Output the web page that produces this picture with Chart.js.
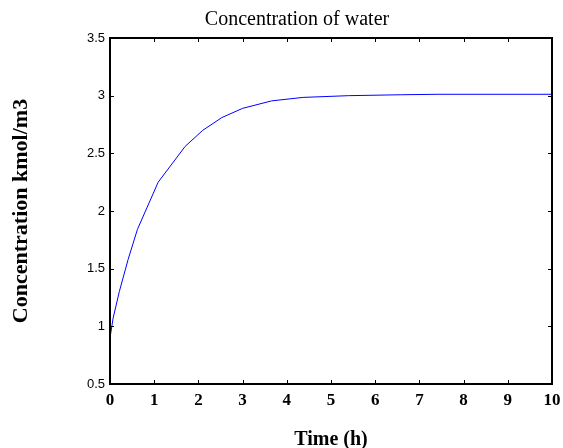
<!DOCTYPE html>
<html>
<head>
<meta charset="utf-8">
<script src="https://cdn.jsdelivr.net/npm/chart.js@4/dist/chart.umd.min.js"></script>
<style>
  html, body { margin: 0; padding: 0; background: #fff; }
  #wrap { width: 563px; height: 448px; }
</style>
</head>
<body>
<div id="wrap"><canvas id="waterChart" width="563" height="448"></canvas></div>
<script>
// time (h) and concentration of water (kmol/m3)
const timeH = [0, 0.07, 0.21, 0.41, 0.62, 1.09, 1.7, 2.1, 2.53, 3.0, 3.66, 4.37, 5.4, 6.6, 7.4, 10];
const conc = [0.9, 1.07, 1.3, 1.58, 1.84, 2.25, 2.56, 2.7, 2.81, 2.89, 2.955, 2.985, 3.0, 3.008, 3.012, 3.012];
const xTicks = [0, 1, 2, 3, 4, 5, 6, 7, 8, 9, 10];
const yTicks = [0.5, 1, 1.5, 2, 2.5, 3, 3.5];
const yTickLabels = ["0.5", "1", "1.5", "2", "2.5", "3", "3.5"];
const chartTitle = "Concentration of water";

// draws the title, the box round the plot and the small inward ticks on all four sides
const boxPlugin = {
  id: "box",
  afterDraw(chart) {
    const ctx = chart.ctx;
    const a = chart.chartArea;
    const xs = chart.scales.x;
    const ys = chart.scales.y;
    const len = 4;
    ctx.save();
    ctx.strokeStyle = "#000";
    ctx.lineWidth = 1;
    ctx.beginPath();
    xTicks.forEach((t) => {
      const px = Math.round(xs.getPixelForValue(t)) + 0.5;
      ctx.moveTo(px, a.bottom);
      ctx.lineTo(px, a.bottom - len);
      ctx.moveTo(px, a.top);
      ctx.lineTo(px, a.top + len);
    });
    yTicks.forEach((t) => {
      const py = Math.round(ys.getPixelForValue(t)) + 0.5;
      ctx.moveTo(a.left, py);
      ctx.lineTo(a.left + len, py);
      ctx.moveTo(a.right, py);
      ctx.lineTo(a.right - len, py);
    });
    ctx.stroke();
    ctx.lineWidth = 2;
    ctx.strokeRect(a.left, a.top, a.right - a.left, a.bottom - a.top);
    // title sits a bit left of the plot centre, like the original
    ctx.fillStyle = "#000";
    ctx.font = "20px 'Liberation Serif', 'Times New Roman', serif";
    ctx.textAlign = "center";
    ctx.textBaseline = "middle";
    ctx.fillText(chartTitle, 297, 20);
    ctx.restore();
  },
};

const ctx = document.getElementById("waterChart").getContext("2d");
new Chart(ctx, {
  type: "line",
  data: {
    datasets: [
      {
        data: timeH.map((t, i) => ({ x: t, y: conc[i] })),
        borderColor: "#0000ff",
        borderWidth: 1,
        pointRadius: 0,
        tension: 0,
        fill: false,
      },
    ],
  },
  options: {
    responsive: false,
    animation: false,
    layout: { padding: { left: 0, right: 11, top: 38, bottom: 0 } },
    plugins: {
      legend: { display: false },
      tooltip: { enabled: false },
      title: { display: false },
    },
    scales: {
      x: {
        type: "linear",
        min: 0,
        max: 10,
        afterBuildTicks: (s) => { s.ticks = xTicks.map((v) => ({ value: v })); },
        afterFit: (s) => {
          s.height = 64;
          s.paddingLeft = 0;
          s.paddingRight = 0;
        },
        grid: { display: false, drawTicks: false },
        border: { display: false },
        ticks: {
          color: "#000",
          padding: 6,
          maxRotation: 0,
          font: { family: "'Liberation Serif', 'Times New Roman', serif", size: 17, weight: "bold" },
        },
        title: {
          display: true,
          text: "Time (h)",
          color: "#000",
          font: { family: "'Liberation Serif', 'Times New Roman', serif", size: 20, weight: "bold", lineHeight: 0.8 },
          padding: { top: 0, bottom: 0 },
        },
      },
      y: {
        type: "linear",
        min: 0.5,
        max: 3.5,
        afterBuildTicks: (s) => { s.ticks = yTicks.map((v) => ({ value: v })); },
        afterFit: (s) => {
          s.width = 110;
          s.paddingTop = 0;
          s.paddingBottom = 0;
        },
        grid: { display: false, drawTicks: false },
        border: { display: false },
        ticks: {
          color: "#000",
          padding: 5,
          font: { family: "'Liberation Sans', Arial, sans-serif", size: 13 },
          callback: (value) => yTickLabels[yTicks.indexOf(value)],
        },
        title: {
          display: true,
          text: "Concentration kmol/m3",
          color: "#000",
          font: { family: "'Liberation Serif', 'Times New Roman', serif", size: 22, weight: "bold", lineHeight: 1.2 },
          padding: { top: 8, bottom: 0 },
        },
      },
    },
  },
  plugins: [boxPlugin],
});
</script>
</body>
</html>
